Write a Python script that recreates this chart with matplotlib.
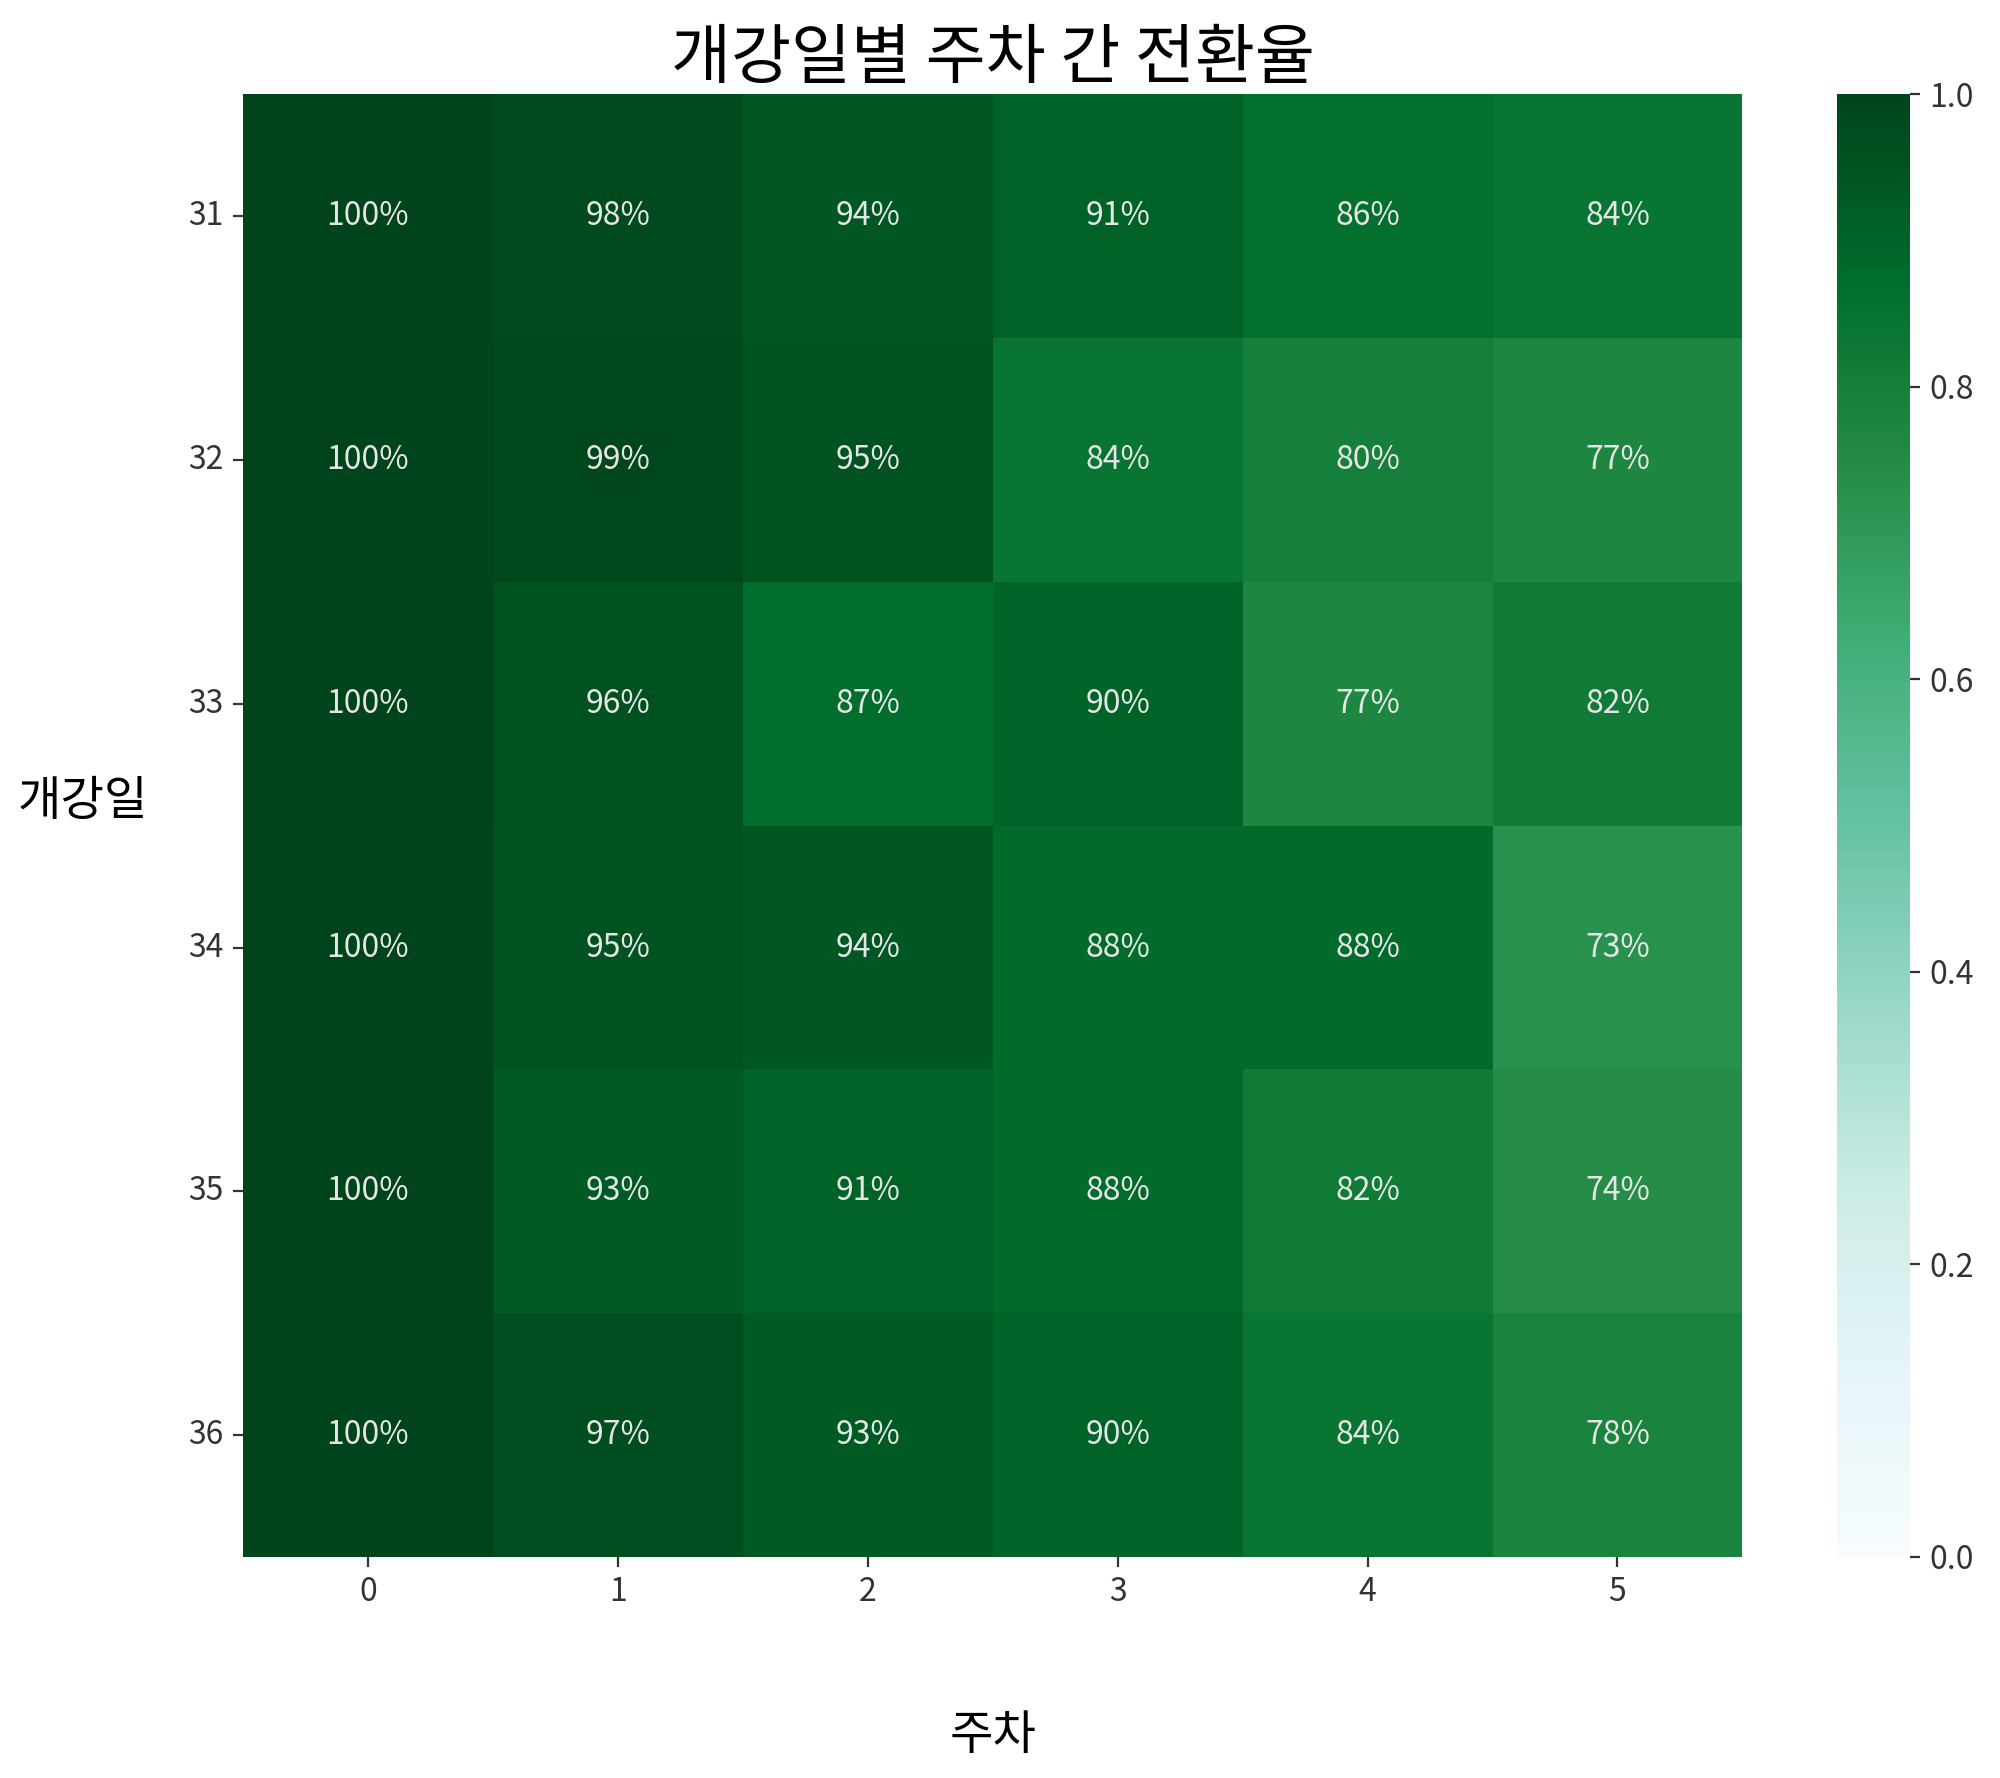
import matplotlib
matplotlib.use("Agg")
import matplotlib.pyplot as plt
import seaborn as sns
import numpy as np
import pandas as pd

plt.rcParams['font.family'] = ['Noto Sans CJK KR', 'DejaVu Sans']

cohorts = [31, 32, 33, 34, 35, 36]
weeks = [0, 1, 2, 3, 4, 5]
row31 = [1.00, 0.98, 0.94, 0.91, 0.86, 0.84]
row32 = [1.00, 0.99, 0.95, 0.84, 0.80, 0.77]
row33 = [1.00, 0.96, 0.87, 0.90, 0.77, 0.82]
row34 = [1.00, 0.95, 0.94, 0.88, 0.88, 0.73]
row35 = [1.00, 0.93, 0.91, 0.88, 0.82, 0.74]
row36 = [1.00, 0.97, 0.93, 0.90, 0.84, 0.78]

df = pd.DataFrame([row31, row32, row33, row34, row35, row36], index=cohorts, columns=weeks)

fig = plt.figure(figsize=(10, 8.89), dpi=200)
ax = fig.add_axes([0.1215, 0.1243, 0.7497, 0.8227])
cax = fig.add_axes([0.9185, 0.1243, 0.0365, 0.8227])

sns.heatmap(df, ax=ax, cbar_ax=cax, cmap='BuGn', vmin=0, vmax=1,
            annot=True, fmt='.0%', annot_kws={'fontsize': 11.5, 'color': '#e6e6e6'})

ax.set_title('개강일별 주차 간 전환율', fontsize=23.5, pad=6)
ax.set_xlabel('주차', fontsize=17, labelpad=37)
ax.set_ylabel('개강일', fontsize=17, rotation=0, labelpad=38)
ax.tick_params(axis='both', labelsize=11.5, colors='#333333')
ax.tick_params(axis='y', rotation=0)
cax.tick_params(labelsize=11.5, colors='#333333')

fig.savefig('out.png', dpi=200)
